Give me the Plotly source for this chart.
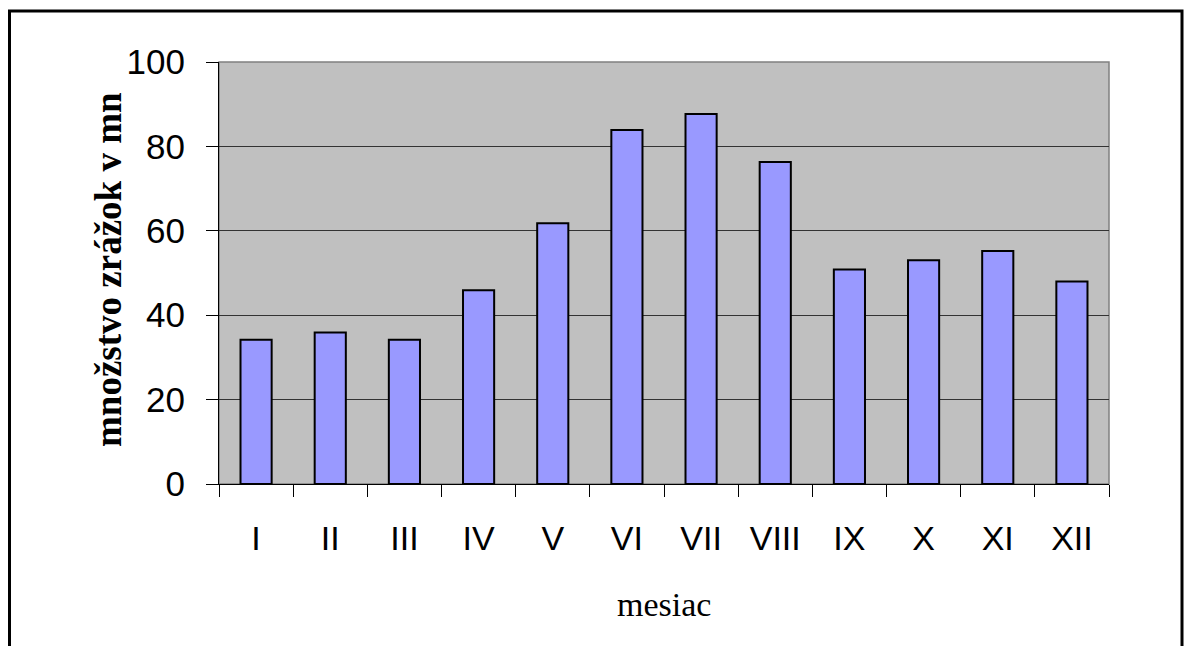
import plotly.graph_objects as go

# Monthly precipitation totals
months = ["I", "II", "III", "IV", "V", "VI", "VII", "VIII", "IX", "X", "XI", "XII"]
precip_mm = [34.2, 35.9, 34.2, 45.9, 61.8, 83.9, 87.7, 76.3, 50.8, 53.0, 55.2, 48.0]
y_ticks = [0, 20, 40, 60, 80, 100]

W, H = 1185, 646
L, R, T, B = 219, 1109, 62, 484
pw, ph = R - L, B - T


def px(x):
    return (x - L) / pw


def py(y):
    return (B - y) / ph


fig = go.Figure()
fig.add_trace(go.Bar(
    x=months,
    y=precip_mm,
    marker=dict(color="#9999FF", line=dict(color="black", width=2)),
    hoverinfo="x+y",
))

fig.update_layout(
    width=W,
    height=H,
    margin=dict(l=L, r=W - R, t=T, b=H - B, pad=0),
    paper_bgcolor="white",
    plot_bgcolor="#C0C0C0",
    bargap=0.58,
    showlegend=False,
    font=dict(family="Liberation Sans, Arial, sans-serif", color="black"),
    xaxis=dict(
        type="category",
        showline=True,
        linecolor="black",
        linewidth=1,
        ticks="outside",
        tickson="boundaries",
        ticklen=12,
        tickcolor="black",
        tickwidth=1,
        showgrid=False,
        tickfont=dict(size=34, family="Liberation Sans, Arial, sans-serif"),
        ticklabelstandoff=24,
    ),
    yaxis=dict(
        range=[0, 100],
        tickvals=y_ticks,
        showline=True,
        linecolor="black",
        linewidth=1,
        ticks="outside",
        ticklen=12,
        tickcolor="black",
        tickwidth=1,
        showgrid=True,
        gridcolor="#333333",
        gridwidth=1,
        zeroline=False,
        tickfont=dict(size=35, family="Liberation Sans, Arial, sans-serif"),
        ticklabelstandoff=14,
    ),
    shapes=[
        # gray frame of the plotting area (top and right sides)
        dict(type="rect", xref="paper", yref="paper", x0=0, x1=1, y0=0, y1=1,
             line=dict(color="#808080", width=1.5), layer="below"),
        # outer chart border
        dict(type="rect", xref="paper", yref="paper",
             x0=px(9.5), x1=px(1182), y0=py(660), y1=py(11),
             line=dict(color="black", width=3), layer="above"),
    ],
    annotations=[
        dict(text="<b>množstvo zrážok v mn</b>", xref="paper", yref="paper",
             x=px(108), y=py(270), xanchor="center", yanchor="middle",
             textangle=-90, showarrow=False,
             font=dict(family="Liberation Serif, Times New Roman, serif", size=37)),
        dict(text="mesiac", xref="paper", yref="paper",
             x=px(664), y=py(604), xanchor="center", yanchor="middle",
             showarrow=False,
             font=dict(family="Liberation Serif, Times New Roman, serif", size=34)),
    ],
)

fig.write_html("out.html")
